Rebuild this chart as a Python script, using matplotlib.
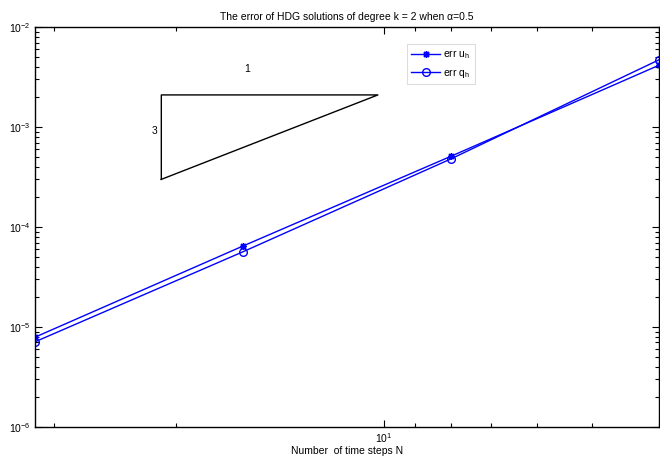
import matplotlib
matplotlib.use("Agg")
import matplotlib.pyplot as plt
from matplotlib.ticker import LogLocator, NullFormatter

plt.rcParams["font.family"] = ["Liberation Sans", "DejaVu Sans"]
plt.rcParams["mathtext.fontset"] = "custom"
plt.rcParams["mathtext.rm"] = "Liberation Sans"
plt.rcParams["mathtext.it"] = "Liberation Sans:italic"

# data
steps = [32, 16, 8, 4]
err_u = [7.9e-6, 6.45e-5, 5.1e-4, 4.15e-3]
err_q = [7.1e-6, 5.65e-5, 4.8e-4, 4.7e-3]

# slope triangle
tri_x = [21.0, 21.0, 10.2, 21.0]
tri_y = [3.0e-4, 2.1e-3, 2.1e-3, 3.0e-4]

fig = plt.figure(figsize=(6.6, 4.61), dpi=100)
ax = fig.add_axes([0.053, 0.074, 0.945, 0.867])

ax.loglog(steps, err_u, color="#0000ff", lw=1.0, marker=(8, 2, 0),
          ms=5, mew=1.0, label="err u$_{\\rm h}$")
ax.loglog(steps, err_q, color="#0000ff", lw=1.0, marker="o", ms=5.5,
          mfc="none", mew=1.0, label="err q$_{\\rm h}$")

ax.plot(tri_x, tri_y, color="black", lw=1.0)
ax.text(15.8, 3.8e-3, "1", fontsize=7.5, ha="center", va="center")
ax.text(21.5, 9.1e-4, "3", fontsize=7.5, ha="center", va="center")

ax.set_xlim(32, 4)
ax.set_ylim(1e-6, 1e-2)

ax.xaxis.set_major_locator(LogLocator(base=10))
ax.xaxis.set_minor_locator(LogLocator(base=10, subs=range(2, 10)))
ax.xaxis.set_minor_formatter(NullFormatter())
ax.yaxis.set_minor_formatter(NullFormatter())

ax.tick_params(which="both", direction="in", top=True, right=True,
               labelsize=7.5, width=0.8, pad=3)
ax.tick_params(which="major", length=5)
ax.tick_params(which="minor", length=3)
for sp in ax.spines.values():
    sp.set_linewidth(1.0)

ax.set_title("The error of HDG solutions of degree k = 2 when α=0.5",
             fontsize=7.5, pad=5)
ax.set_xlabel("Number  of time steps N", fontsize=7.5, labelpad=1)

leg = ax.legend(loc="upper left", bbox_to_anchor=(0.588, 0.97), fontsize=7.5,
                fancybox=False, framealpha=1, edgecolor="#dddddd",
                handlelength=2.8, borderpad=0.4, labelspacing=0.5,
                handletextpad=0.3)
leg.get_frame().set_linewidth(0.8)

fig.savefig("out.png", dpi=100)
